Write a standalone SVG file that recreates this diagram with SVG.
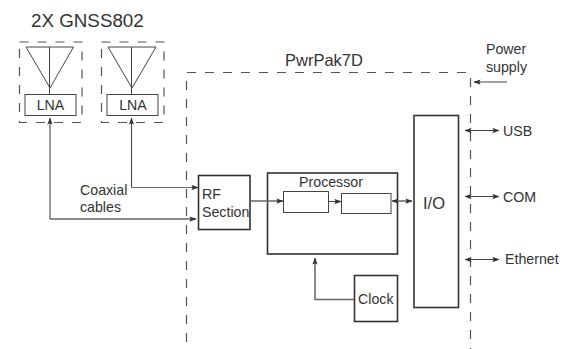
<svg xmlns="http://www.w3.org/2000/svg" width="566" height="349" viewBox="0 0 566 349">
<style>
text{font-family:"Liberation Sans",Arial,sans-serif;fill:#333;font-size:14.200px}
.b{fill:none;stroke:#333;stroke-width:1.6}
.t{fill:none;stroke:#444;stroke-width:1}
.d{fill:none;stroke:#555;stroke-width:1.2;stroke-dasharray:9 9}
.c{fill:none;stroke:#444;stroke-width:1.1}
.g{stroke:#666;stroke-width:1.5;fill:none}
</style>
<defs>
<marker id="a" viewBox="0 0 8 6" refX="7.500" refY="3" markerWidth="7" markerHeight="6" markerUnits="userSpaceOnUse" orient="auto-start-reverse"><path d="M0 0L8 3L0 6L1.500 3Z" fill="#333"/></marker>
</defs>
<rect width="566" height="349" fill="#fff"/>
<text x="31" y="27" style="font-size:18.800px">2X GNSS802</text>
<g id="gnss1">
<rect class="d" x="19.500" y="42" width="62.500" height="80.500"/>
<path class="t" d="M26 47H73.500L50 88ZM49.500 47V94"/>
<rect class="t" x="25" y="94.500" width="51" height="21"/>
<text x="50.500" y="110" text-anchor="middle">LNA</text>
</g>
<g id="gnss2">
<rect class="d" x="101.500" y="42" width="62.500" height="80.500"/>
<path class="t" d="M108 47H156L132 88ZM131.500 47V94"/>
<rect class="t" x="107" y="94.500" width="51" height="21"/>
<text x="133" y="110" text-anchor="middle">LNA</text>
</g>
<g id="pwrpak">
<path class="d" d="M466 72.500H186.500V349"/>
<path class="d" d="M470.500 78V349"/>
<text x="285" y="66" style="font-size:16.500px">PwrPak7D</text>
</g>
<g id="rf">
<rect class="b" x="198.500" y="175.500" width="51.500" height="54"/>
<text x="202" y="199">RF</text>
<text x="202" y="217">Section</text>
</g>
<g id="processor">
<rect class="b" x="267.500" y="173" width="130" height="81"/>
<text x="331" y="187" text-anchor="middle">Processor</text>
<rect class="t" x="283.500" y="191.500" width="45" height="21"/>
<rect class="t" x="341.500" y="193.500" width="49.500" height="20"/>
</g>
<g id="clock">
<rect class="b" x="354.500" y="275.500" width="43" height="46"/>
<text x="358" y="304">Clock</text>
</g>
<g id="io">
<rect class="b" x="414" y="115.500" width="44.500" height="192"/>
<text x="423" y="209" style="font-size:16.500px">I/O</text>
</g>
<g id="connectors">
<path class="c" d="M50 219V118" marker-end="url(#a)"/>
<path class="g" d="M50 219H196" marker-end="url(#a)"/>
<path class="c" d="M131.500 187.500V118" marker-end="url(#a)"/>
<path class="g" d="M131.500 187.500H198" style="stroke-width:1.200" marker-end="url(#a)"/>
<path class="g" d="M250 201H283" marker-end="url(#a)"/>
<path class="c" d="M328.500 201.500H341" marker-end="url(#a)"/>
<path class="g" d="M392 201H412" marker-start="url(#a)" marker-end="url(#a)"/>
<path class="g" d="M354 299.500H315V258" marker-end="url(#a)"/>
<path class="c" d="M507 82H474" marker-end="url(#a)"/>
<path class="c" d="M465 130.500H499" marker-start="url(#a)" marker-end="url(#a)"/>
<path class="c" d="M465 196.500H499" marker-start="url(#a)" marker-end="url(#a)"/>
<path class="c" d="M465 259.500H499" marker-start="url(#a)" marker-end="url(#a)"/>
</g>
<g id="labels">
<text x="80" y="195">Coaxial</text>
<text x="80" y="212">cables</text>
<text x="486" y="54">Power</text>
<text x="486" y="72">supply</text>
<text x="503" y="136">USB</text>
<text x="503" y="202">COM</text>
<text x="505" y="264">Ethernet</text>
</g>
</svg>
